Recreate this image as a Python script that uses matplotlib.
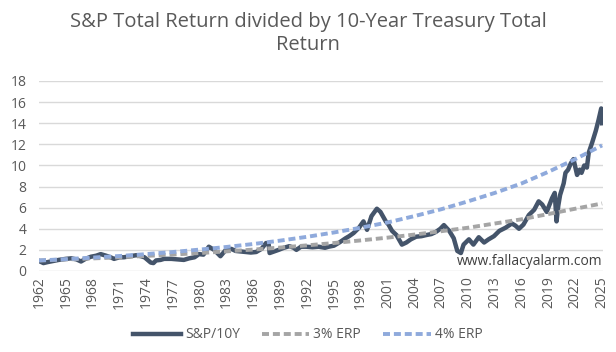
import matplotlib
matplotlib.use("Agg")
import matplotlib.pyplot as plt

plt.rcParams['font.family'] = ['Open Sans', 'DejaVu Sans']

# values
sp_years = [1962.0, 1962.5, 1963.0, 1963.6, 1964.2, 1965.0, 1965.6, 1966.2, 1966.7, 1967.2,
            1967.8, 1968.4, 1968.9, 1969.5, 1970.0, 1970.4, 1971.0, 1971.5, 1972.2, 1972.9,
            1973.4, 1973.8, 1974.5, 1974.8, 1975.1, 1975.6, 1976.0, 1976.8, 1977.5, 1978.2,
            1978.8, 1979.4, 1979.9, 1980.4, 1981.0, 1981.6, 1982.3, 1982.9, 1983.5, 1984.0,
            1984.6, 1985.1, 1985.7, 1986.3, 1986.9, 1987.4, 1987.7, 1987.8, 1988.3, 1988.8,
            1989.4, 1990.0, 1990.5, 1990.8, 1991.3, 1991.9, 1992.6, 1993.3, 1994.0, 1994.4,
            1995.0, 1995.6, 1996.3, 1996.7, 1997.2, 1997.8, 1998.3, 1998.7, 1999.2, 1999.8,
            2000.2, 2000.8, 2001.1, 2001.5, 2002.0, 2002.6, 2003.1, 2003.6, 2004.2, 2004.8,
            2005.3, 2005.9, 2006.4, 2006.9, 2007.3, 2007.9, 2008.4, 2008.8, 2009.2, 2009.5,
            2010.1, 2010.6, 2011.2, 2011.8, 2012.3, 2012.9, 2013.5, 2014.2, 2014.9, 2015.3,
            2015.7, 2016.2, 2016.8, 2017.4, 2017.9, 2018.3, 2018.8, 2019.4, 2019.7, 2019.9,
            2020.1, 2020.3, 2020.7, 2020.9, 2021.2, 2021.5, 2021.8, 2022.2, 2022.5, 2022.7,
            2023.0, 2023.3, 2023.5, 2023.9, 2024.3, 2024.6, 2024.9, 2025.0]
sp_ratio = [0.95, 0.75, 0.85, 0.95, 1.05, 1.15, 1.2, 1.1, 0.9, 1.15,
            1.35, 1.45, 1.6, 1.45, 1.3, 1.15, 1.3, 1.3, 1.4, 1.5,
            1.4, 1.3, 0.8, 0.75, 1.0, 1.05, 1.15, 1.15, 1.1, 1.05,
            1.2, 1.3, 1.6, 1.55, 2.3, 2.0, 1.4, 2.0, 2.1, 1.9,
            1.85, 1.8, 1.75, 1.8, 2.1, 2.65, 2.5, 1.7, 1.85, 2.0,
            2.2, 2.35, 2.2, 2.0, 2.3, 2.3, 2.25, 2.3, 2.2, 2.3,
            2.4, 2.7, 3.1, 3.3, 3.6, 4.1, 4.7, 3.9, 5.2, 5.9,
            5.6, 4.7, 4.4, 3.8, 3.4, 2.5, 2.7, 3.0, 3.25, 3.3,
            3.4, 3.5, 3.7, 4.0, 4.35, 3.8, 3.1, 1.9, 1.7, 2.5,
            3.0, 2.5, 3.2, 2.7, 3.0, 3.3, 3.8, 4.1, 4.5, 4.3,
            4.0, 4.4, 5.3, 5.8, 6.6, 6.3, 5.6, 6.9, 7.4, 4.7,
            6.2, 7.2, 8.3, 9.3, 9.6, 10.2, 10.6, 9.1, 9.6, 9.3,
            10.0, 9.8, 11.2, 12.2, 13.3, 14.3, 15.4, 14.0]

erp_years = [1962, 1965, 1968, 1971, 1974, 1977, 1980, 1983, 1986, 1989, 1992,
             1995, 1998, 2001, 2004, 2007, 2010, 2013, 2016, 2019, 2022, 2025]
erp3 = [1.0, 1.09, 1.19, 1.3, 1.43, 1.56, 1.7, 1.86, 2.03, 2.22, 2.43,
        2.65, 2.9, 3.16, 3.45, 3.77, 4.1, 4.5, 4.9, 5.4, 5.9, 6.4]
erp4 = [1.0, 1.12, 1.27, 1.42, 1.6, 1.8, 2.03, 2.28, 2.56, 2.88, 3.24,
        3.65, 4.1, 4.6, 5.2, 5.85, 6.6, 7.4, 8.3, 9.4, 10.6, 11.9]

text_col = '#595959'

fig = plt.figure(figsize=(6.16, 3.52), dpi=100)
ax = fig.add_axes([39 / 616, 1 - 271 / 352, 564 / 616, 190 / 352])

ax.plot(sp_years, sp_ratio, color='#44546A', lw=3.2, label='S&P/10Y', solid_joinstyle='round')
ax.plot(erp_years, erp3, color='#A5A5A5', lw=2.8, dashes=(1.8, 1.0), label='3% ERP')
ax.plot(erp_years, erp4, color='#8FAADC', lw=2.8, dashes=(1.8, 1.0), label='4% ERP')

ax.set_xlim(1962, 2025.1)
ax.set_ylim(0, 18)
ax.set_yticks(range(0, 19, 2))
ax.set_xticks(erp_years)
ax.set_xticklabels([str(y) for y in erp_years], rotation=90)
ax.tick_params(axis='both', length=0, labelsize=10, labelcolor=text_col)
ax.tick_params(axis='y', pad=9)
ax.tick_params(axis='x', pad=4)
ax.grid(axis='y', color='#D9D9D9', lw=1)
ax.set_axisbelow(True)
for s in ax.spines.values():
    s.set_visible(False)

ax.text(2025, 0.15, 'www.fallacyalarm.com', ha='right', va='bottom',
        fontsize=10, color='#404040')

fig.text(0.5, 1 - 34 / 352, 'S&P Total Return divided by 10-Year Treasury Total\nReturn',
         ha='center', va='center', fontsize=14.5, color=text_col, linespacing=1.2)

fig.legend(loc='center', bbox_to_anchor=(0.5, 1 - 335 / 352), ncol=3, frameon=False,
           fontsize=10, handlelength=3.4, columnspacing=1.6, handletextpad=0.3,
           labelcolor=text_col)

fig.savefig('out.png', dpi=100)
